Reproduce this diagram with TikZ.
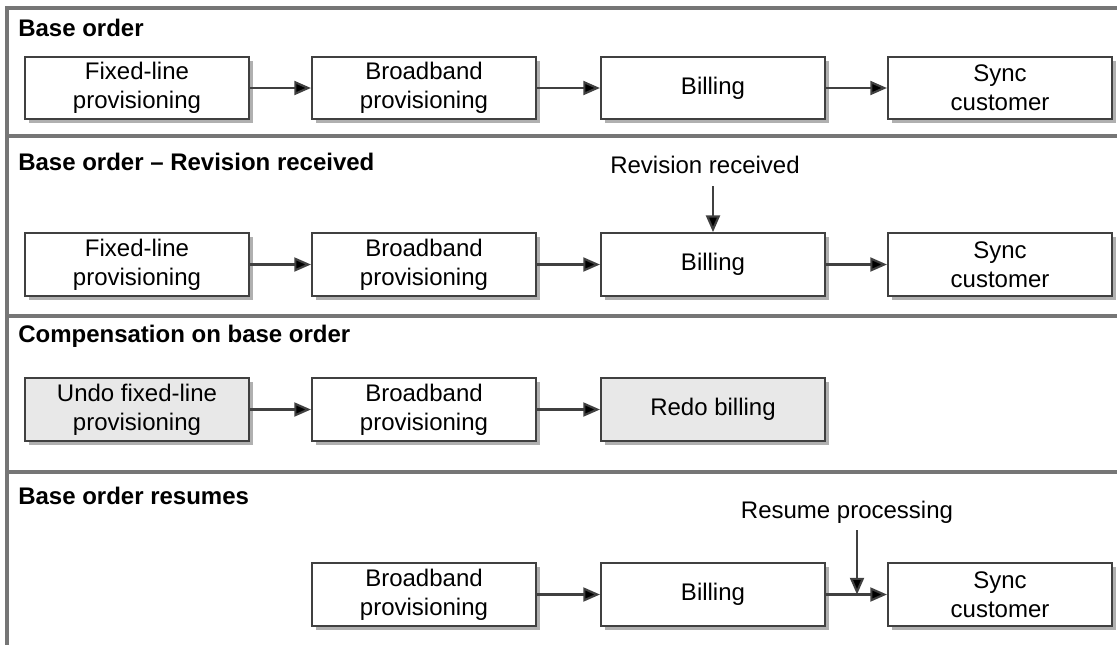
\documentclass[tikz,border=0pt]{standalone}
\usepackage{fontspec}
\setmainfont{Liberation Sans}
\usetikzlibrary{arrows.meta,shadows}
\definecolor{framegray}{HTML}{767676}
\definecolor{boxline}{HTML}{404040}
\definecolor{shadowgray}{HTML}{B0B0B0}
\definecolor{boxfill}{HTML}{E8E8E8}
\tikzset{
  stepbox/.style={draw=boxline, line width=1.6pt, fill=white, minimum width=168pt, minimum height=47pt,
    inner sep=0pt, align=center, font=\fontsize{18}{21.5}\selectfont,
    drop shadow={shadow xshift=3pt, shadow yshift=-3pt, fill=shadowgray, opacity=1}},
  greybox/.style={stepbox, fill=boxfill},
  sectitle/.style={anchor=base west, inner sep=0pt, font=\fontsize{18}{20}\selectfont\bfseries},
  note/.style={anchor=base, inner sep=0pt, font=\fontsize{18}{20}\selectfont},
  arr/.style={draw=boxline, line width=1.6pt, -{Triangle[length=12.5pt,width=10.5pt,fill=black]}},
  frameline/.style={draw=framegray, line width=2.6pt}
}
\begin{document}
\begin{tikzpicture}[x=0.75pt,y=-0.75pt]
\useasboundingbox (0,0) rectangle (1117,644);
\clip (0,0) rectangle (1117,644);
% frame and separators
\draw[frameline] (1130,8) -- (7,8) -- (7,660);
\draw[frameline] (7,136) -- (1130,136);
\draw[frameline] (7,316) -- (1130,316);
\draw[frameline] (7,472) -- (1130,472);
% titles
\node[sectitle] (t1) at (18,36) {Base order};
\node[sectitle] (t2) at (18,170) {Base order -- Revision received};
\node[sectitle] (t3) at (18,342) {Compensation on base order};
\node[sectitle] (t4) at (18,504) {Base order resumes};
% row 1
\node[stepbox] (a1) at (137,88) {Fixed-line\\provisioning};
\node[stepbox] (a2) at (424,88) {Broadband\\provisioning};
\node[stepbox] (a3) at (713,88) {Billing};
\node[stepbox] (a4) at (1000,88) {Sync\\customer};
\draw[arr] (a1) -- (a2);
\draw[arr] (a2) -- (a3);
\draw[arr] (a3) -- (a4);
% row 2
\node[stepbox] (b1) at (137,264.5) {Fixed-line\\provisioning};
\node[stepbox] (b2) at (424,264.5) {Broadband\\provisioning};
\node[stepbox] (b3) at (713,264.5) {Billing};
\node[stepbox] (b4) at (1000,264.5) {Sync\\customer};
\draw[arr] (b1) -- (b2);
\draw[arr] (b2) -- (b3);
\draw[arr] (b3) -- (b4);
\node[note] (rev) at (705,173) {Revision received};
\coordinate (revstart) at (713,186);
\draw[arr] (revstart) -- (b3.north);
% row 3
\node[greybox] (c1) at (137,409.5) {Undo fixed-line\\provisioning};
\node[stepbox] (c2) at (424,409.5) {Broadband\\provisioning};
\node[greybox] (c3) at (713,409.5) {Redo billing};
\draw[arr] (c1) -- (c2);
\draw[arr] (c2) -- (c3);
% row 4
\node[stepbox] (d2) at (424,594.5) {Broadband\\provisioning};
\node[stepbox] (d3) at (713,594.5) {Billing};
\node[stepbox] (d4) at (1000,594.5) {Sync\\customer};
\draw[arr] (d2) -- (d3);
\draw[arr] (d3) -- (d4);
\node[note] (res) at (847,518) {Resume processing};
\coordinate (resstart) at (857,530);
\coordinate (resend) at (857,594.5);
\draw[arr] (resstart) -- (resend);
\end{tikzpicture}
\end{document}
